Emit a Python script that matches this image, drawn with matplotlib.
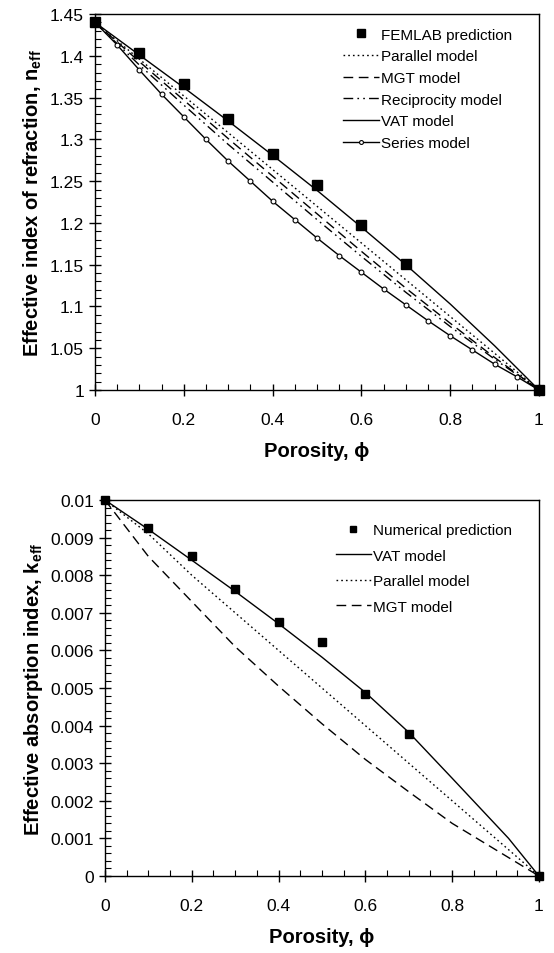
import matplotlib
matplotlib.use("Agg")
import matplotlib.pyplot as plt
from matplotlib.ticker import MultipleLocator, FuncFormatter

plt.rcParams["font.family"] = ["Liberation Sans", "DejaVu Sans"]
plt.rcParams["mathtext.default"] = "regular"

# Top chart: effective index of refraction
phi_fem = [0.0, 0.1, 0.2, 0.3, 0.4, 0.5, 0.6, 0.7, 1.0]
n_fem = [1.44, 1.404, 1.366, 1.324, 1.283, 1.246, 1.197, 1.151, 1.0]

phi_models = [0.0, 0.1, 0.2, 0.3, 0.4, 0.5, 0.6, 0.7, 0.8, 0.9, 1.0]
n_parallel = [1.44, 1.396, 1.352, 1.308, 1.264, 1.220, 1.176, 1.132, 1.088, 1.044, 1.0]
n_mgt = [1.44, 1.393, 1.347, 1.301, 1.256, 1.211, 1.166, 1.122, 1.080, 1.039, 1.0]
n_recip = [1.44, 1.389, 1.341, 1.294, 1.249, 1.204, 1.160, 1.117, 1.076, 1.037, 1.0]
n_vat = [1.44, 1.401, 1.362, 1.322, 1.281, 1.239, 1.195, 1.150, 1.103, 1.053, 1.0]

phi_series = [0.0, 0.05, 0.1, 0.15, 0.2, 0.25, 0.3, 0.35, 0.4, 0.45, 0.5,
              0.55, 0.6, 0.65, 0.7, 0.75, 0.8, 0.85, 0.9, 0.95, 1.0]
n_series = [1.44, 1.413, 1.383, 1.354, 1.327, 1.300, 1.274, 1.250, 1.226, 1.204, 1.182,
            1.161, 1.141, 1.121, 1.102, 1.083, 1.065, 1.048, 1.031, 1.016, 1.0]

# Bottom chart: effective absorption index
phi_num = [0.0, 0.1, 0.2, 0.3, 0.4, 0.5, 0.6, 0.7, 1.0]
k_num = [0.01, 0.00925, 0.0085, 0.00763, 0.00675, 0.00623, 0.00485, 0.00378, 0.0]

phi_k_vat = [0.0, 0.1, 0.2, 0.3, 0.4, 0.5, 0.6, 0.7, 0.8, 0.93, 1.0]
k_vat = [0.01, 0.00922, 0.0084, 0.00757, 0.00671, 0.00582, 0.00488, 0.00382, 0.0026, 0.001, 0.0]
k_parallel = [0.01, 0.0091, 0.0080, 0.0070, 0.0060, 0.0050, 0.0040, 0.0030, 0.0020, 0.0010, 0.0]
k_mgt = [0.01, 0.0085, 0.0073, 0.0061, 0.00505, 0.00405, 0.0031, 0.00224, 0.0014, 0.0007, 0.0]

DOTTED = (0, (1.2, 2.2))
DASHED = (0, (7, 4))
DASHDOTDOT = (0, (7, 3, 1.2, 3, 1.2, 3))


def fmt(v, pos):
    return "%g" % round(v, 6)


def style_axes(ax, ymaj, ymin_step, ylim):
    ax.set_xlim(0, 1)
    ax.set_ylim(*ylim)
    ax.xaxis.set_major_locator(MultipleLocator(0.2))
    ax.xaxis.set_minor_locator(MultipleLocator(0.05))
    ax.yaxis.set_major_locator(MultipleLocator(ymaj))
    ax.yaxis.set_minor_locator(MultipleLocator(ymin_step))
    ax.xaxis.set_major_formatter(FuncFormatter(fmt))
    ax.yaxis.set_major_formatter(FuncFormatter(fmt))
    ax.tick_params(which="major", direction="inout", length=8, width=1, labelsize=12.5)
    ax.tick_params(which="minor", direction="in", length=4, width=0.8)
    ax.tick_params(axis="x", pad=12)
    ax.tick_params(axis="y", pad=4)
    for sp in ax.spines.values():
        sp.set_linewidth(1.0)


fig = plt.figure(figsize=(5.54, 9.54), dpi=100)

ax1 = fig.add_axes([0.1715, 0.5901, 0.8014, 0.3941])
ax1.plot(phi_fem, n_fem, "s", color="black", markersize=7.5, linestyle="none",
         label="FEMLAB prediction", clip_on=False, zorder=5)
ax1.plot(phi_models, n_parallel, color="black", lw=1, linestyle=DOTTED, label="Parallel model")
ax1.plot(phi_models, n_mgt, color="black", lw=1, linestyle=DASHED, label="MGT model")
ax1.plot(phi_models, n_recip, color="black", lw=1, linestyle=DASHDOTDOT, label="Reciprocity model")
ax1.plot(phi_models, n_vat, color="black", lw=1, label="VAT model")
ax1.plot(phi_series, n_series, color="black", lw=1, marker="o", markersize=3.5,
         markerfacecolor="white", markeredgewidth=0.8, label="Series model")
style_axes(ax1, 0.05, 0.01, (1.0, 1.45))
ax1.set_xlabel("Porosity, ϕ", fontsize=14.5, fontweight="bold", labelpad=10)
ax1.set_ylabel("Effective index of refraction, n$_{eff}$", fontsize=14.5, fontweight="bold", labelpad=4)
ax1.legend(loc="upper right", bbox_to_anchor=(0.97, 1.0), frameon=False, fontsize=11,
           handlelength=2.3, handletextpad=0.15, labelspacing=0.5, markerscale=0.8)

ax2 = fig.add_axes([0.1895, 0.0807, 0.7834, 0.3941])
ax2.plot(phi_num, k_num, "s", color="black", markersize=6, linestyle="none",
         label="Numerical prediction", clip_on=False, zorder=5)
ax2.plot(phi_k_vat, k_vat, color="black", lw=1, label="VAT model")
ax2.plot(phi_models, k_parallel, color="black", lw=1, linestyle=DOTTED, label="Parallel model")
ax2.plot(phi_models, k_mgt, color="black", lw=1, linestyle=DASHED, label="MGT model")
style_axes(ax2, 0.001, 0.0002, (0.0, 0.01))
ax2.set_xlabel("Porosity, ϕ", fontsize=14.5, fontweight="bold", labelpad=10)
ax2.set_ylabel("Effective absorption index, k$_{eff}$", fontsize=14.5, fontweight="bold", labelpad=4)
ax2.legend(loc="upper right", bbox_to_anchor=(0.97, 0.975), frameon=False, fontsize=11,
           handlelength=2.3, handletextpad=0.15, labelspacing=0.75, markerscale=0.8)

fig.savefig("out.png", dpi=100)
